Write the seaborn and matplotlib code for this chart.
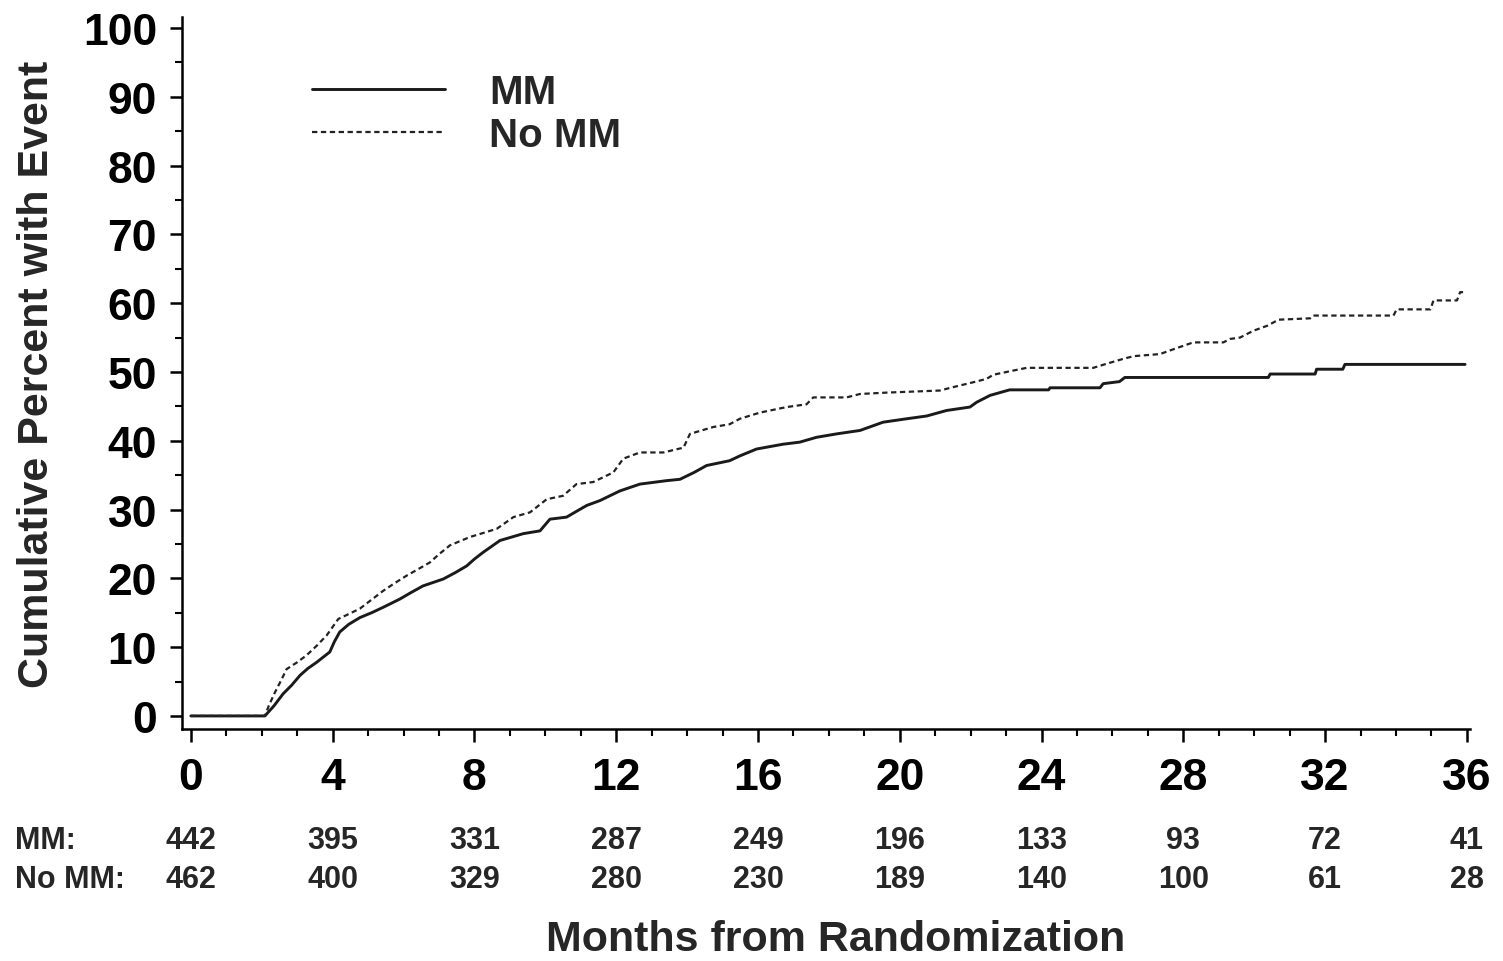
import numpy as np
import pandas as pd
import matplotlib
matplotlib.use("Agg")
import matplotlib.pyplot as plt
import matplotlib.transforms as mtransforms
from matplotlib.ticker import MultipleLocator
import seaborn as sns

# ---------------- data ----------------
mm_months = [0, 2.09, 2.35, 2.6, 2.85, 3.08, 3.3, 3.55, 3.92, 4.05, 4.2, 4.45, 4.77, 5.1,
             5.43, 5.9, 6.2, 6.55, 7.12, 7.45, 7.78, 8.0, 8.25, 8.5, 8.72, 9.38, 9.85,
             10.13, 10.6, 10.9, 11.17, 11.54, 12.1, 12.67, 13.42, 13.8, 14.2, 14.55,
             15.2, 15.49, 15.96, 16.71, 17.18, 17.65, 18.22, 18.88, 19.53, 20.2,
             20.76, 21.32, 21.98, 22.17, 22.55, 23.1, 24.2, 24.24, 25.65, 25.74, 26.2,
             26.35, 30.4, 30.45, 31.72, 31.76, 32.5, 32.56, 35.95]
mm_pct = [0, 0, 1.5, 3.2, 4.5, 5.9, 6.9, 7.8, 9.3, 10.8, 12.2, 13.3, 14.3, 15.0,
          15.8, 17.0, 17.9, 18.9, 19.9, 20.8, 21.8, 22.8, 23.8, 24.7, 25.5, 26.5, 26.9,
          28.6, 28.9, 29.8, 30.6, 31.3, 32.7, 33.7, 34.2, 34.4, 35.4, 36.4,
          37.1, 37.8, 38.8, 39.5, 39.8, 40.5, 41.0, 41.5, 42.7, 43.2,
          43.6, 44.4, 44.9, 45.6, 46.6, 47.4, 47.4, 47.7, 47.7, 48.3, 48.6,
          49.2, 49.2, 49.7, 49.7, 50.4, 50.4, 51.1, 51.1]

nomm_months = [0, 2.09, 2.2, 2.37, 2.55, 2.7, 3.0, 3.26, 3.55, 3.83, 4.16, 4.45, 4.77,
               5.1, 5.43, 5.75, 6.09, 6.4, 6.74, 7.0, 7.31, 7.87, 8.63, 9.1, 9.57, 10.04,
               10.5, 10.88, 11.35, 11.92, 12.2, 12.67, 13.33, 13.9, 14.08, 14.74, 15.2,
               15.49, 16.06, 16.81, 17.37, 17.56, 18.5, 18.88, 19.63, 21.13, 21.51, 22.07,
               22.45, 22.64, 23.2, 23.58, 25.46, 25.84, 26.3, 26.6, 27.34, 27.72, 28.28,
               29.13, 29.32, 29.6, 29.98, 30.36, 30.69, 31.58, 31.67, 33.93, 34.02, 34.97,
               35.06, 35.72, 35.81, 35.9]
nomm_pct = [0, 0, 1.5, 3.4, 5.2, 6.8, 7.8, 8.8, 10.2, 11.7, 14.1, 14.8, 15.6,
            16.9, 18.2, 19.3, 20.4, 21.3, 22.3, 23.5, 24.8, 26.0, 27.2, 28.9, 29.6, 31.5,
            32.0, 33.7, 34.0, 35.4, 37.4, 38.3, 38.3, 39.0, 41.0, 42.0, 42.4,
            43.2, 44.1, 44.9, 45.3, 46.3, 46.3, 46.8, 47.0, 47.3, 47.8, 48.5,
            49.0, 49.6, 50.2, 50.6, 50.6, 51.2, 51.9, 52.3, 52.6, 53.3, 54.3,
            54.3, 54.8, 55.0, 56.0, 56.7, 57.6, 57.8, 58.2, 58.2, 59.1, 59.1,
            60.4, 60.4, 61.6, 61.6]

risk_months = [0, 4, 8, 12, 16, 20, 24, 28, 32, 36]
risk_mm = [442, 395, 331, 287, 249, 196, 133, 93, 72, 41]
risk_nomm = [462, 400, 329, 280, 230, 189, 140, 100, 61, 28]
group_labels = ["MM", "No MM"]

# ---------------- style ----------------
sns.set_style("ticks")
plt.rcParams["font.family"] = ["Liberation Sans", "DejaVu Sans"]
plt.rcParams["font.weight"] = "bold"
plt.rcParams["axes.labelweight"] = "bold"

W, H = 1503, 962
fig = plt.figure(figsize=(W / 100, H / 100), dpi=100)
ax = fig.add_axes([182 / W, 232 / H, 1288.4 / W, 712 / H])

df_mm = pd.DataFrame({"month": mm_months, "pct": mm_pct})
df_no = pd.DataFrame({"month": nomm_months, "pct": nomm_pct})

sns.lineplot(data=df_mm, x="month", y="pct", ax=ax, color="#1a1a1a", lw=2.1,
             estimator=None, sort=False, label=group_labels[0])
sns.lineplot(data=df_no, x="month", y="pct", ax=ax, color="#222222", lw=1.6,
             estimator=None, sort=False, label=group_labels[1], dashes=False)
ax.lines[1].set_dashes((2.4, 1.6))

ax.set_xlim(-0.25, 36.1)
ax.set_ylim(-1.9, 101.6)
ax.xaxis.set_major_locator(MultipleLocator(4))
ax.xaxis.set_minor_locator(MultipleLocator(1))
ax.yaxis.set_major_locator(MultipleLocator(10))
ax.yaxis.set_minor_locator(MultipleLocator(5))

for s in ["top", "right"]:
    ax.spines[s].set_visible(False)
for s in ["left", "bottom"]:
    ax.spines[s].set_linewidth(1.8)
    ax.spines[s].set_color("black")

ax.tick_params(axis="both", which="major", length=9, width=1.8, color="black",
               labelsize=32, labelcolor="black")
ax.tick_params(axis="both", which="minor", length=5, width=1.5, color="black")
ax.tick_params(axis="x", which="major", pad=11)
ax.tick_params(axis="y", which="major", pad=9)
for lab in ax.get_xticklabels() + ax.get_yticklabels():
    lab.set_fontweight("bold")

ax.set_xlabel("Months from Randomization", fontsize=31, fontweight="bold")
ax.set_ylabel("Cumulative Percent with Event", fontsize=31, fontweight="bold")
ax.xaxis.set_label_coords(0.507, -0.267)
ax.yaxis.set_label_coords(-0.097, 0.499)

leg = ax.legend(loc="upper left", bbox_to_anchor=(0.101, 0.921), frameon=False,
                fontsize=29, handlelength=3.3, handletextpad=1.1, borderpad=0,
                borderaxespad=0, labelspacing=0.12)
for t in leg.get_texts():
    t.set_fontweight("bold")

# number at risk table
trans = mtransforms.blended_transform_factory(ax.transData, fig.transFigure)
y_mm = (H - 841) / H
y_no = (H - 880) / H
fig.text(15 / W, y_mm, "MM:", fontsize=22, fontweight="bold", va="center", ha="left")
fig.text(15 / W, y_no, "No MM:", fontsize=22, fontweight="bold", va="center", ha="left")
for m, a, b in zip(risk_months, risk_mm, risk_nomm):
    ax.text(m, y_mm, str(a), transform=trans, fontsize=22, fontweight="bold",
            ha="center", va="center")
    ax.text(m, y_no, str(b), transform=trans, fontsize=22, fontweight="bold",
            ha="center", va="center")

fig.savefig("out.png", dpi=100, facecolor="white")
